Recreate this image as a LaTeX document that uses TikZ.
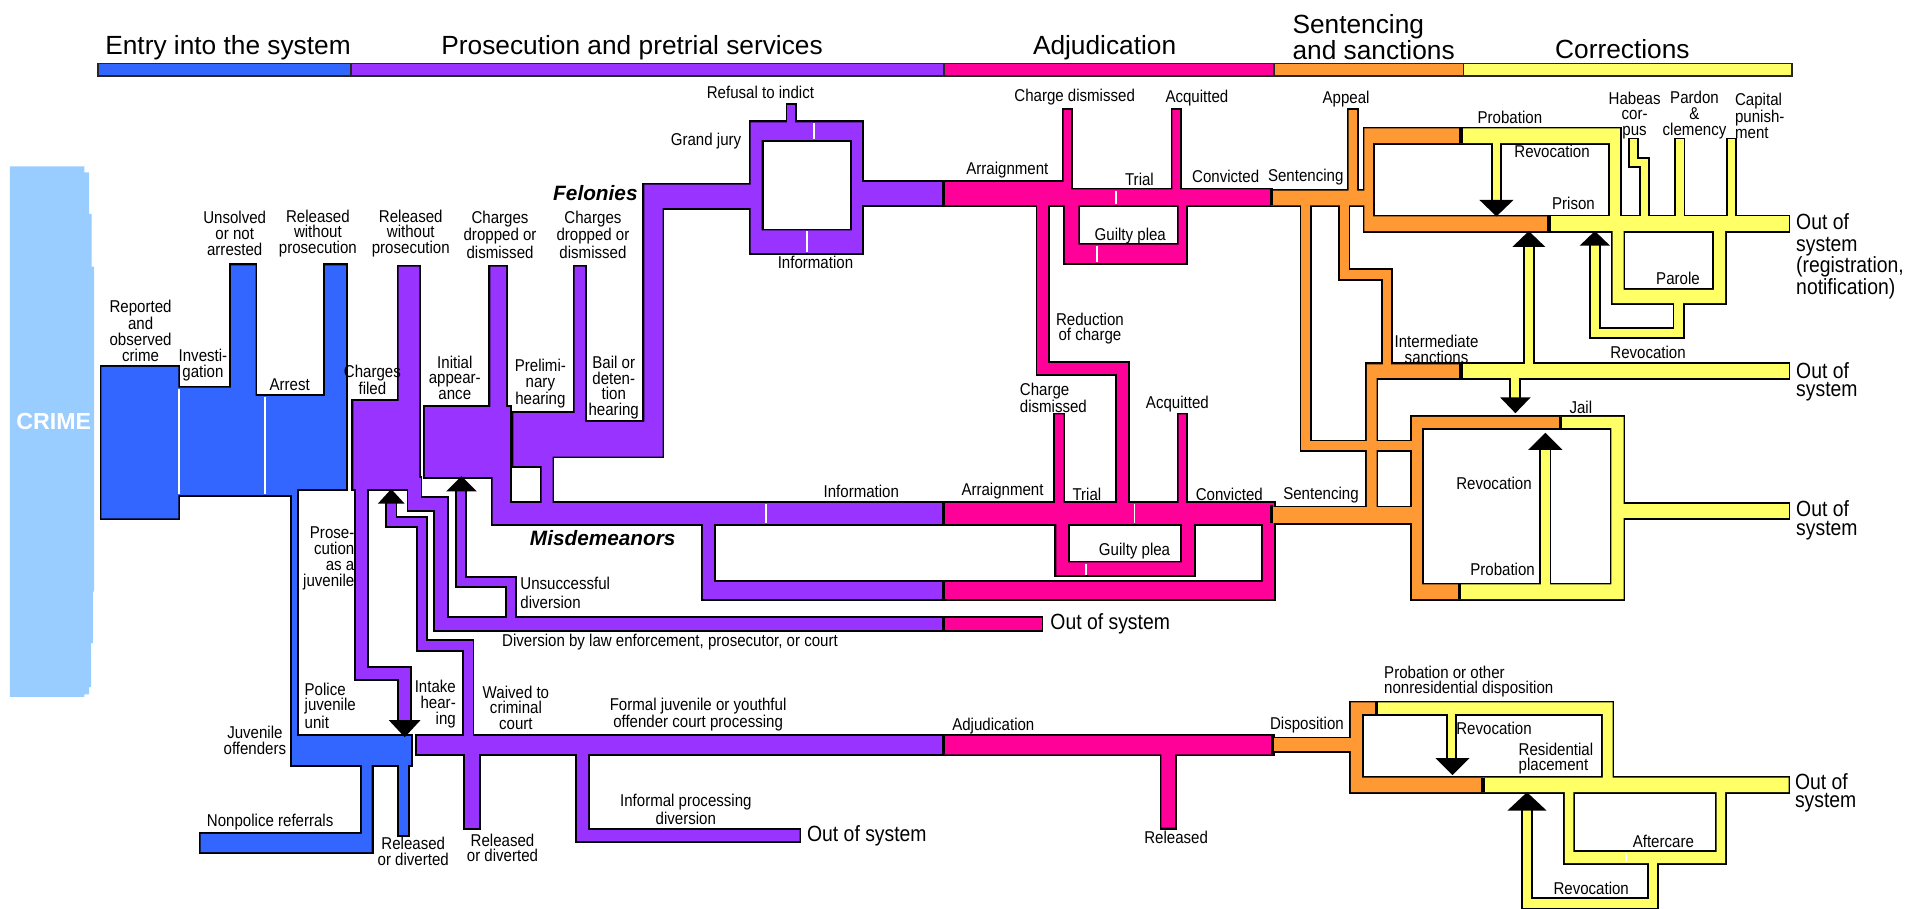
\documentclass[tikz,border=0pt]{standalone}
\usepackage{fontspec}
\setmainfont{Liberation Sans}
\newfontfamily\narrowfont{Liberation Sans}[FakeStretch=0.88]
\usepackage{tikz}

\definecolor{crimeblue}{HTML}{99CCFF}
\definecolor{entry}{HTML}{3366FF}
\definecolor{prosec}{HTML}{9933FF}
\definecolor{adjud}{HTML}{FF0099}
\definecolor{sentc}{HTML}{FF9933}
\definecolor{correc}{HTML}{FFFF66}

\pgfdeclarelayer{rims}
\pgfsetlayers{rims,main}

% filled channel with a black rim
\newcommand\flow[2]{\begin{pgfonlayer}{rims}\filldraw[black,line width=3pt] #2;\end{pgfonlayer}\fill[#1] #2;}
% narrow channel along a path
\newcommand\tube[3]{\begin{pgfonlayer}{rims}\draw[black,line width=#1+3pt,line cap=rect] #3;\end{pgfonlayer}\draw[#2,line width=#1,line cap=rect] #3;}

\begin{document}
\begin{tikzpicture}[x=1pt,y=-1pt,
	lbl/.style={font=\narrowfont\fontsize{14}{13}\selectfont,align=center,inner sep=0pt},
	lft/.style={lbl,align=left,anchor=west},
	rgt/.style={lbl,align=right,anchor=east},
	big/.style={font=\narrowfont\fontsize{18}{15}\selectfont,align=left,anchor=west,inner sep=0pt},
	hdr/.style={font=\fontsize{21.5}{21.5}\selectfont,inner sep=0pt},
	kind/.style={font=\fontsize{17}{17}\selectfont\bfseries\itshape,inner sep=0pt},
	gap/.style={white,line width=1.5pt},
	cut/.style={black,line width=2.5pt},
	tip/.style={fill=black}]
\useasboundingbox (0,0) rectangle (1568,743.5);

% stages
\foreach \a/\b/\c in {80/287/entry,287/772/prosec,772/1042/adjud,1042/1197/sentc,1197/1466/correc}
	\filldraw[fill=\c,draw=black!85,line width=1.5pt] (\a,52) rectangle (\b,62);
\node[hdr] (hentry) at (186.5,39) {Entry into the system};
\node[hdr] (hprosec) at (517,39) {Prosecution and pretrial services};
\node[hdr] (hadjud) at (903.5,39) {Adjudication};
\node[hdr,align=left,anchor=west] (hsent) at (1057,30.5) {Sentencing\\and sanctions};
\node[hdr] (hcorr) at (1327,40) {Corrections};

% crime
\fill[crimeblue] (8,136) -- (69,136) -- (69,141) -- (73,141) -- (73,175) -- (75,175) -- (75,218) -- (77,218) -- (77,484) -- (76,484) -- (76,526) -- (74.5,526) -- (74.5,562) -- (73,562) -- (73,568) -- (69,568) -- (69,570) -- (8,570) -- cycle;
\node[font=\fontsize{19}{19}\selectfont\bfseries,text=white,inner sep=0pt] (crime) at (44,345) {CRIME};

% entry into the system
\flow{entry}{(83,300) -- (146,300) -- (146,317) -- (189,317) -- (189,217) -- (209,217) -- (209,324) -- (266,324) -- (266,217) -- (283,217) -- (283,400) -- (243,400) -- (243,405) -- (146,405) -- (146,424) -- (83,424) -- cycle}
\tube{4pt}{entry}{(241,402) -- (241,604)}
\flow{entry}{(239,602) -- (336,602) -- (336,626) -- (239,626) -- cycle}
\flow{entry}{(296,622) -- (304,622) -- (304,697) -- (164,697) -- (164,682) -- (296,682) -- cycle}
\flow{entry}{(326,622) -- (334,622) -- (334,683) -- (326,683) -- cycle}
\draw[gap] (146.5,318) -- (146.5,404);
\draw[gap] (217,325) -- (217,404);

% prosecution and pretrial services
\flow{prosec}{(289,328) -- (326,328) -- (326,218) -- (343,218) -- (343,400) -- (289,400) -- cycle}
\flow{prosec}{(347.5,333) -- (401,333) -- (401,218) -- (414,218) -- (414,333) -- (417,333) -- (417,390) -- (347.5,390) -- cycle}
\flow{prosec}{(420,338) -- (470,338) -- (470,218) -- (478.5,218) -- (478.5,345) -- (527,345) -- (527,151) -- (616,151) -- (616,170) -- (542,170) -- (542,373.5) -- (452,373.5) -- (452,413) -- (443,413) -- (443,381) -- (420,381) -- cycle}
\flow{prosec}{(403,388) -- (417,388) -- (417,411.5) -- (773,411.5) -- (773,428.5) -- (403,428.5) -- cycle}
\flow{prosec}{(575,426) -- (584,426) -- (584,476) -- (773,476) -- (773,490) -- (575,490) -- cycle}
% grand jury
\begin{pgfonlayer}{rims}\filldraw[black,line width=3pt,even odd rule] (614,100) rectangle (705,207) (623,114.5) rectangle (697,188.5);\end{pgfonlayer}
\fill[prosec,even odd rule] (614,100) rectangle (705,207) (623,114.5) rectangle (697,188.5);
\tube{6pt}{prosec}{(647,104) -- (647,89)}
\flow{prosec}{(703,149) -- (773,149) -- (773,168) -- (703,168) -- cycle}
\draw[gap] (666,101) -- (666,114);
\draw[gap] (660,189) -- (660,206);
\draw[gap] (626.5,412) -- (626.5,428);
% diversion and juvenile links
\tube{10pt}{prosec}{(339,396) -- (339,412) -- (361,412) -- (361,510.5) -- (847,510.5)}
\fill[adjud] (772,505.5) rectangle (852,515.5);
\tube{7pt}{prosec}{(377,402) -- (377,476) -- (418,476) -- (418,508)}
\fill[tip] (365,402) -- (390,402) -- (377.5,389.5) -- cycle;
\tube{7pt}{prosec}{(320,412) -- (320,427) -- (345,427) -- (345,528) -- (383,528) -- (383,600)}
\fill[tip] (309,412) -- (331,412) -- (320,400) -- cycle;
\tube{9pt}{prosec}{(295.5,395) -- (295.5,551) -- (331,551) -- (331,586)}
\fill[tip] (318,589) -- (344,589) -- (331,603) -- cycle;
% juvenile processing
\flow{prosec}{(341,602) -- (773,602) -- (773,617) -- (341,617) -- cycle}
\flow{prosec}{(380,614) -- (392,614) -- (392,677) -- (380,677) -- cycle}
\flow{prosec}{(472,614) -- (481,614) -- (481,679) -- (654,679) -- (654,688) -- (472,688) -- cycle}

% adjudication
\flow{adjud}{(772,149) -- (870,149) -- (870,90) -- (876,90) -- (876,155) -- (959,155) -- (959,90) -- (965,90) -- (965,155) -- (1040,155) -- (1040,168) -- (772,168) -- cycle}
\flow{adjud}{(871,165) -- (882,165) -- (882,200) -- (964,200) -- (964,165) -- (970,165) -- (970,215) -- (871,215) -- cycle}
\tube{9pt}{adjud}{(853,162) -- (853,301.5) -- (918,301.5) -- (918,418)}
\flow{adjud}{(772,411.5) -- (863,411.5) -- (863,339) -- (870,339) -- (870,411.5) -- (964,411.5) -- (964,339) -- (970,339) -- (970,411.5) -- (1042,411.5) -- (1042,428.5) -- (772,428.5) -- cycle}
\flow{adjud}{(864,426) -- (873.5,426) -- (873.5,460) -- (967,460) -- (967,426) -- (976.5,426) -- (976.5,470.5) -- (864,470.5) -- cycle}
\flow{adjud}{(772,476) -- (1033,476) -- (1033,426) -- (1042,426) -- (1042,490) -- (772,490) -- cycle}
\flow{adjud}{(772,602) -- (1041,602) -- (1041,617) -- (961,617) -- (961,677) -- (950,677) -- (950,617) -- (772,617) -- cycle}
\draw[gap] (913,156) -- (913,167);
\draw[gap] (897,201) -- (897,214);
\draw[gap] (928,412) -- (928,428);
\draw[gap] (888,461) -- (888,470);

% sentencing and sanctions
\flow{sentc}{(1040,156) -- (1103,156) -- (1103,90) -- (1110,90) -- (1110,156) -- (1120,156) -- (1120,168) -- (1040,168) -- cycle}
\flow{sentc}{(1195,105) -- (1116,105) -- (1116,189) -- (1266,189) -- (1266,177) -- (1123,177) -- (1123,117) -- (1195,117) -- cycle}
\tube{7pt}{sentc}{(1068,164) -- (1068,364.5) -- (1157,364.5)}
\tube{7pt}{sentc}{(1099.5,164) -- (1099.5,224.5) -- (1134.5,224.5) -- (1134.5,300)}
\flow{sentc}{(1040,415) -- (1160,415) -- (1160,428) -- (1040,428) -- cycle}
\flow{sentc}{(1118,420) -- (1118,298) -- (1195,298) -- (1195,309) -- (1126,309) -- (1126,420) -- cycle}
\flow{sentc}{(1276,341) -- (1155,341) -- (1155,490) -- (1194,490) -- (1194,478) -- (1163,478) -- (1163,350) -- (1276,350) -- cycle}
\flow{sentc}{(1040,604) -- (1108,604) -- (1108,614) -- (1040,614) -- cycle}
\flow{sentc}{(1126,574.5) -- (1105,574.5) -- (1105,648) -- (1213,648) -- (1213,636) -- (1114,636) -- (1114,584) -- (1126,584) -- cycle}

% corrections
\flow{correc}{(1195,105) -- (1325,105) -- (1325,183) -- (1317,183) -- (1317,117) -- (1195,117) -- cycle}
\flow{correc}{(1266,177) -- (1463,177) -- (1463,189) -- (1266,189) -- cycle}
\tube{6pt}{correc}{(1345,180) -- (1345,133) -- (1336,133) -- (1336,117)}
\tube{6pt}{correc}{(1374,180) -- (1374,117)}
\tube{6pt}{correc}{(1416,180) -- (1416,117)}
\flow{correc}{(1319,186) -- (1328,186) -- (1328,237) -- (1402,237) -- (1402,186) -- (1411,186) -- (1411,248) -- (1319,248) -- cycle}
\tube{7pt}{correc}{(1373,245) -- (1373,272.5) -- (1304.5,272.5) -- (1304.5,203)}
\fill[tip] (1292,201) -- (1317,201) -- (1304.5,189) -- cycle;
\tube{6pt}{correc}{(1224,114) -- (1224,164)}
\fill[tip] (1210,163.5) -- (1238,163.5) -- (1224,177) -- cycle;
\flow{correc}{(1195,298) -- (1463,298) -- (1463,309) -- (1195,309) -- cycle}
\tube{7pt}{correc}{(1250.5,301) -- (1250.5,203)}
\fill[tip] (1237,202) -- (1264,202) -- (1250.5,189) -- cycle;
\tube{7pt}{correc}{(1239,306) -- (1239,324)}
\fill[tip] (1227,325) -- (1252,325) -- (1239.5,338) -- cycle;
\flow{correc}{(1276,341) -- (1328,341) -- (1328,490) -- (1194,490) -- (1194,478) -- (1318,478) -- (1318,350) -- (1276,350) -- cycle}
\flow{correc}{(1325,412.5) -- (1463,412.5) -- (1463,424) -- (1325,424) -- cycle}
\tube{7pt}{correc}{(1264,481) -- (1264,369)}
\fill[tip] (1250,368) -- (1278,368) -- (1264,354) -- cycle;
% juvenile corrections
\flow{correc}{(1126,574.5) -- (1319,574.5) -- (1319,636) -- (1463,636) -- (1463,648) -- (1213,648) -- (1213,636) -- (1311,636) -- (1311,584) -- (1126,584) -- cycle}
\tube{6pt}{correc}{(1187,582) -- (1187,619)}
\fill[tip] (1174,620) -- (1202,620) -- (1188,634) -- cycle;
\flow{correc}{(1280,645) -- (1287,645) -- (1287,697) -- (1404,697) -- (1404,645) -- (1411,645) -- (1411,706) -- (1280,706) -- cycle}
\tube{7pt}{correc}{(1352,703) -- (1352,739) -- (1249,739) -- (1249,664)}
\fill[tip] (1233,663) -- (1265,663) -- (1249,648) -- cycle;
\draw[gap] (1330,698) -- (1330,705);

% stage changes
\foreach \x/\a/\b in {772/149/168,1040/155/168,1195/105/117,1267/177/189,1195/298/309,1276/341/350,1194/478/490,772/411.5/428.5,1040/413/428,772/476/490,772/505.5/515.5,772/602/617,1041/602/617,1126/574.5/584,1213/636/648}
	\draw[cut] (\x,\a) -- (\x,\b);

% labels
\node[lbl] (reported) at (115,270.5) {Reported\\and\\observed\\crime};
\node[lbl] (invest) at (166,298.5) {Investi-\\gation};
\node[lbl] (unsolved) at (192,191) {Unsolved\\or not\\arrested};
\node[lbl] (arrest) at (237,315) {Arrest};
\node[lbl] (relwo1) at (260,191) {Released\\without\\prosecution};
\node[lbl] (filed) at (304.6,311) {Charges\\filed};
\node[lbl] (relwo2) at (336,191) {Released\\without\\prosecution};
\node[lbl] (initial) at (372,309) {Initial\\appear-\\ance};
\node[lbl] (dropped1) at (409,192) {Charges\\dropped or\\dismissed};
\node[lbl] (prelim) at (442,314) {Prelimi-\\nary\\hearing};
\node[lbl] (dropped2) at (485,192) {Charges\\dropped or\\dismissed};
\node[lbl] (bail) at (502,317) {Bail or\\deten-\\tion\\hearing};
\node[kind] (felonies) at (487,157.6) {Felonies};
\node[kind] (misd) at (493,440) {Misdemeanors};
\node[lbl] (refusal) at (622,75.5) {Refusal to indict};
\node[lbl] (grandjury) at (577.5,115) {Grand jury};
\node[lbl] (info1) at (667,214.5) {Information};
\node[lbl] (fdismiss) at (879,79.5) {Charge dismissed};
\node[lbl] (facquit) at (979,80) {Acquitted};
\node[lbl] (farraign) at (824,139) {Arraignment};
\node[lbl] (ftrial) at (932,147) {Trial};
\node[lbl] (fconvict) at (1002.5,144.5) {Convicted};
\node[lbl] (fplea) at (924.5,193) {Guilty plea};
\node[lbl] (reduction) at (891.5,268.75) {Reduction\\of charge};
\node[lft] (mdismiss) at (834,325.5) {Charge\\dismissed};
\node[lbl] (macquit) at (963,330.5) {Acquitted};
\node[lbl] (info2) at (704.5,402) {Information};
\node[lbl] (marraign) at (820,402) {Arraignment};
\node[lbl] (mtrial) at (889,404.5) {Trial};
\node[lbl] (mplea) at (928,450.6) {Guilty plea};
\node[lbl] (mconvict) at (1005.5,404.5) {Convicted};
\node[lft] (unsucc) at (425.5,485) {Unsuccessful\\[3pt]diversion};
\node[lbl] (diversion) at (548,525) {Diversion by law enforcement, prosecutor, or court};
\node[big] (outdiv) at (859,510) {Out of system};
\node[rgt] (asjuv) at (290,456.5) {Prose-\\cution\\as a\\juvenile};
\node[lft] (police) at (249,577) {Police\\juvenile\\unit};
\node[lbl] (juvoff) at (208.5,605.5) {Juvenile\\offenders};
\node[rgt] (intake) at (373,576) {Intake\\hear-\\ing};
\node[lbl] (nonpolice) at (221,672) {Nonpolice referrals};
\node[lbl] (reldiv1) at (338,696.5) {Released\\or diverted};
\node[lbl] (reldiv2) at (411,693.5) {Released\\or diverted};
\node[lbl] (waived) at (422,579) {Waived to\\criminal\\court};
\node[lbl] (formal) at (571,584.5) {Formal juvenile or youthful\\offender court processing};
\node[lbl] (informal) at (561,662) {Informal processing\\diversion};
\node[big] (outinf) at (660,684) {Out of system};
\node[lbl] (jadjud) at (812.5,594) {Adjudication};
\node[lbl] (released) at (962,685) {Released};
\node[lbl] (dispo) at (1069,593) {Disposition};
\node[lft] (nonres) at (1132,557.5) {Probation or other\\nonresidential disposition};
\node[lft] (jrevoc1) at (1191,596) {Revocation};
\node[lft] (resid) at (1242,620.5) {Residential\\placement};
\node[big] (outjuv) at (1468,648.5) {Out of\\system};
\node[lbl] (aftercare) at (1360.5,688) {Aftercare};
\node[lbl] (jrevoc2) at (1301.5,727) {Revocation};
\node[lbl] (appeal) at (1101,81) {Appeal};
\node[lbl] (fsent) at (1068,145) {Sentencing};
\node[lbl] (probation) at (1235,96) {Probation};
\node[lbl] (prevoc) at (1269.5,124) {Revocation};
\node[lbl] (prison) at (1287,166) {Prison};
\node[lbl] (habeas) at (1337,94.5) {Habeas\\cor-\\pus};
\node[lbl] (pardon) at (1386,94) {Pardon\\\&\\clemency};
\node[lft] (capital) at (1419,95) {Capital\\punish-\\ment};
\node[big,font=\narrowfont\fontsize{18}{17.6}\selectfont] (outreg) at (1469,209.5) {Out of\\system\\(registration,\\notification)};
\node[lbl] (parole) at (1372.5,228) {Parole};
\node[lbl] (parevoc) at (1348,288) {Revocation};
\node[lbl] (intermed) at (1175,285.5) {Intermediate\\sanctions};
\node[big] (outint) at (1469,312.5) {Out of\\system};
\node[lbl] (jail) at (1293,333) {Jail};
\node[lbl] (jailrevoc) at (1222,395) {Revocation};
\node[big] (outjail) at (1469,425.5) {Out of\\system};
\node[lbl] (msent) at (1080.5,405) {Sentencing};
\node[lbl] (jprob) at (1229,466) {Probation};
\end{tikzpicture}
\end{document}
